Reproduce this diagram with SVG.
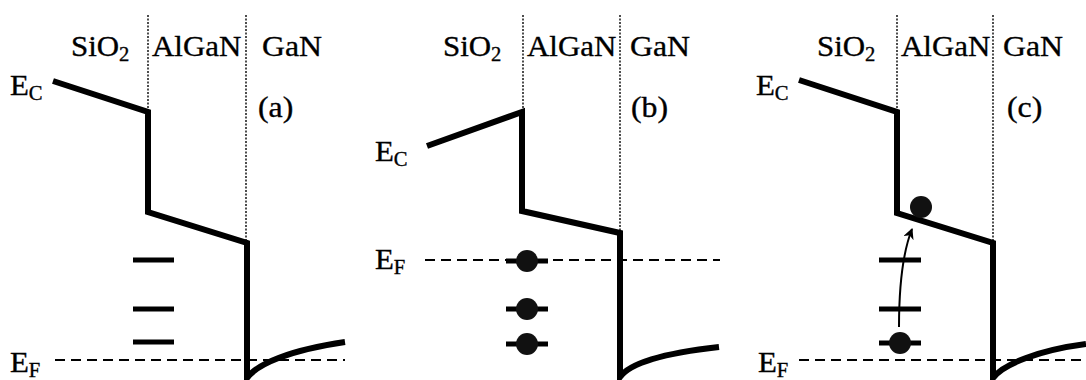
<svg xmlns="http://www.w3.org/2000/svg" width="1086" height="380" viewBox="0 0 1086 380">
<defs>
<style>
.t{font-family:"Liberation Serif","Times New Roman",serif;font-size:30px;fill:#000;stroke:#000;stroke-width:0.35}
.s{font-size:20px}
.band{fill:none;stroke:#000;stroke-width:6;stroke-linejoin:miter}
.div{stroke:#222;stroke-width:1.6;stroke-dasharray:2,1.5;fill:none}
.ef{stroke:#000;stroke-width:2;stroke-dasharray:10,6;fill:none}
.trap{stroke:#000;stroke-width:5;fill:none}
.el{fill:#111}
</style>
<marker id="ah" viewBox="0 0 10 10" refX="9" refY="5" markerWidth="11" markerHeight="11" markerUnits="userSpaceOnUse" orient="auto">
<path d="M0,0 L10,5 L0,10 L3,5 Z" fill="#000"/>
</marker>
</defs>
<rect width="1086" height="380" fill="#fff"/>

<g id="panel-a">
<g id="a-labels">
<text class="t" transform="translate(71,56) scale(1.03,1)">SiO<tspan class="s" dy="5">2</tspan></text>
<text class="t" transform="translate(152,56) scale(1.03,1)">AlGaN</text>
<text class="t" transform="translate(262,56) scale(1.06,1)">GaN</text>
<text class="t" transform="translate(258,117) scale(1.06,1)">(a)</text>
<text class="t" transform="translate(10,95) scale(1.03,1)">E<tspan class="s" dy="5">C</tspan></text>
<text class="t" transform="translate(10,372) scale(1.03,1)">E<tspan class="s" dy="5">F</tspan></text>
</g>
<g id="a-lines">
<path class="div" d="M148,15 V112 M246,15 V243"/>
<path class="ef" d="M55,360 H345"/>
<path class="band" d="M53,81 L148,112 L148,212 L247,243 L247,378 C257,364 290,350 345,342"/>
<path class="trap" d="M133,260 H174 M133,309 H174 M133,342 H174"/>
</g>
</g>

<g id="panel-b">
<g id="b-labels">
<text class="t" transform="translate(443,56) scale(1.03,1)">SiO<tspan class="s" dy="5">2</tspan></text>
<text class="t" transform="translate(527,56) scale(1.03,1)">AlGaN</text>
<text class="t" transform="translate(630,56) scale(1.06,1)">GaN</text>
<text class="t" transform="translate(631,117) scale(1.06,1)">(b)</text>
<text class="t" transform="translate(375,161) scale(1.03,1)">E<tspan class="s" dy="5">C</tspan></text>
<text class="t" transform="translate(375,269) scale(1.03,1)">E<tspan class="s" dy="5">F</tspan></text>
</g>
<g id="b-lines">
<path class="div" d="M523,15 V112 M620,15 V233"/>
<path class="ef" d="M425,260 H720"/>
<path class="band" d="M427,146 L522,112 L522,211 L620,233 L620,377 C630,363 665,353 719,347"/>
<path class="trap" d="M506,261 H548 M506,309 H548 M506,344 H548"/>
<circle class="el" cx="527" cy="261" r="11"/>
<circle class="el" cx="527" cy="309" r="11"/>
<circle class="el" cx="527" cy="344" r="11"/>
</g>
</g>

<g id="panel-c">
<g id="c-labels">
<text class="t" transform="translate(817,56) scale(1.03,1)">SiO<tspan class="s" dy="5">2</tspan></text>
<text class="t" transform="translate(901,56) scale(1.03,1)">AlGaN</text>
<text class="t" transform="translate(1003,56) scale(1.06,1)">GaN</text>
<text class="t" transform="translate(1007,117) scale(1.06,1)">(c)</text>
<text class="t" transform="translate(756,95) scale(1.03,1)">E<tspan class="s" dy="5">C</tspan></text>
<text class="t" transform="translate(758,372) scale(1.03,1)">E<tspan class="s" dy="5">F</tspan></text>
</g>
<g id="c-lines">
<path class="div" d="M897,15 V112 M993,15 V243"/>
<path class="ef" d="M799,360 H1086"/>
<path class="band" d="M799,80 L897,112 L897,213 L993,243 L993,378 C1003,364 1040,350 1086,344"/>
<path class="trap" d="M879,260 H921 M879,309 H921 M879,343 H921"/>
<circle class="el" cx="900" cy="343" r="11"/>
<circle class="el" cx="921" cy="207" r="11"/>
</g>
</g>

<g id="connectors">
<path d="M899,327 Q899,262 912,229" fill="none" stroke="#000" stroke-width="2" marker-end="url(#ah)"/>
</g>
</svg>
